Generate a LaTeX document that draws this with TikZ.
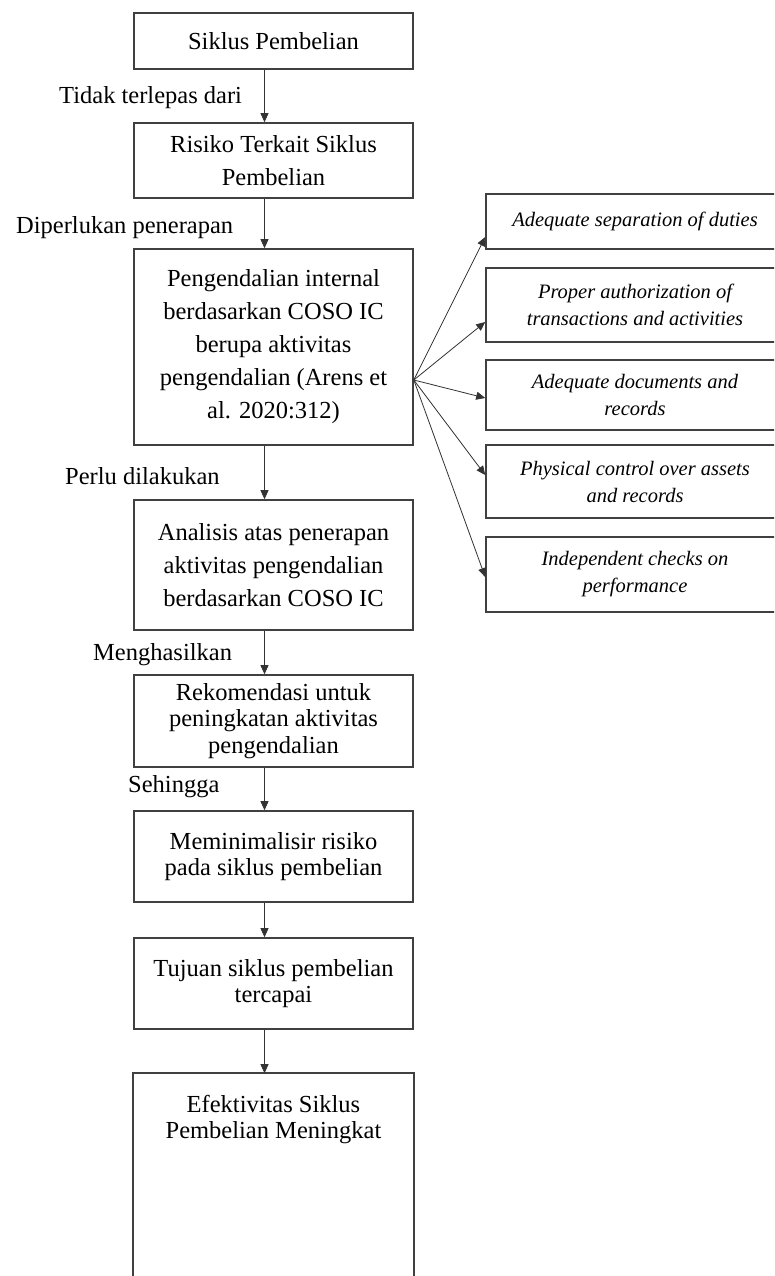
\documentclass[tikz,border=0pt]{standalone}
\usepackage{fontspec}
\setmainfont{Liberation Serif}
\usetikzlibrary{arrows.meta,calc}
\begin{document}
\begin{tikzpicture}[x=1pt,y=-1pt,
 box/.style={draw=black!75,line width=1.6pt,minimum width=279pt,inner sep=0pt,align=center,font=\fontsize{24.5}{33}\selectfont},
 tight/.style={font=\fontsize{24.5}{26.5}\selectfont},
 rbox/.style={draw=black!75,line width=1.6pt,minimum width=298pt,inner sep=0pt,align=center,font=\fontsize{20.5}{27}\selectfont\itshape},
 lbl/.style={anchor=west,inner sep=0pt,font=\fontsize{24.5}{28}\selectfont},
 arr/.style={draw=black!80,line width=0.8pt,-{Triangle[length=9pt,width=8pt]}}]
\useasboundingbox (0,0) rectangle (774,1276);
\clip (0,0) rectangle (774,1276);
\fill[white] (0,0) rectangle (774,1276);

% left column
\node[box,minimum height=56pt] (b1) at (273.5,41) {Siklus Pembelian};
\node[box,minimum height=75pt] (b2) at (273.5,160.5) {Risiko Terkait Siklus\\Pembelian};
\node[box,minimum height=196pt] (b3) at (273.5,347) {Pengendalian internal\\berdasarkan COSO IC\\berupa aktivitas\\pengendalian (Arens et\\al. 2020:312)};
\node[box,minimum height=130pt] (b4) at (273.5,565) {Analisis atas penerapan\\aktivitas pengendalian\\berdasarkan COSO IC};
\node[box,tight,minimum height=92pt] (b5) at (273.5,721) {Rekomendasi untuk\\peningkatan aktivitas\\pengendalian};
\node[box,tight,minimum height=91pt] (b6) at (273.5,856.5) {Meminimalisir risiko\\pada siklus pembelian};
\node[box,tight,minimum height=91pt] (b7) at (273.5,983.5) {Tujuan siklus pembelian\\tercapai};
\node[box,tight,draw=none,minimum height=91pt] (b8) at (273.5,1119.5) {Efektivitas Siklus\\Pembelian Meningkat};
\draw[draw=black!75,line width=1.6pt] (b8.west |- 0,1320) -- (b8.north west) -- (b8.north east) -- (b8.east |- 0,1320);

% labels
\node[lbl] (l1) at (59,98) {Tidak terlepas dari};
\node[lbl] (l2) at (16,228) {Diperlukan penerapan};
\node[lbl] (l3) at (65,476) {Perlu dilakukan};
\node[lbl] (l4) at (93,655) {Menghasilkan};
\node[lbl] (l5) at (128,787) {Sehingga};

% vertical arrows
\foreach \a/\b in {b1/b2,b2/b3,b3/b4,b4/b5,b5/b6,b6/b7,b7/b8}
  \draw[arr] ([xshift=-9pt]\a.south) -- ([xshift=-9pt]\b.north);

% right column
\node[rbox,minimum height=55pt] (r1) at (635,221.5) {Adequate separation of duties};
\node[rbox,minimum height=74pt] (r2) at (635,305) {Proper authorization of\\transactions and activities};
\node[rbox,minimum height=70pt] (r3) at (635,395) {Adequate documents and\\records};
\node[rbox,minimum height=73pt] (r4) at (635,481.5) {Physical control over assets\\and records};
\node[rbox,minimum height=75pt] (r5) at (635,574.5) {Independent checks on\\performance};

% fan arrows
\coordinate (fan) at ([yshift=-33pt]b3.east);
\draw[arr] (fan) -- ([yshift=-15.5pt]r1.west);
\draw[arr] (fan) -- ([yshift=-17pt]r2.west);
\draw[arr] (fan) -- ([yshift=-3pt]r3.west);
\draw[arr] (fan) -- ([yshift=6.5pt]r4.west);
\draw[arr] (fan) -- ([yshift=-2.5pt]r5.west);
\end{tikzpicture}
\end{document}
